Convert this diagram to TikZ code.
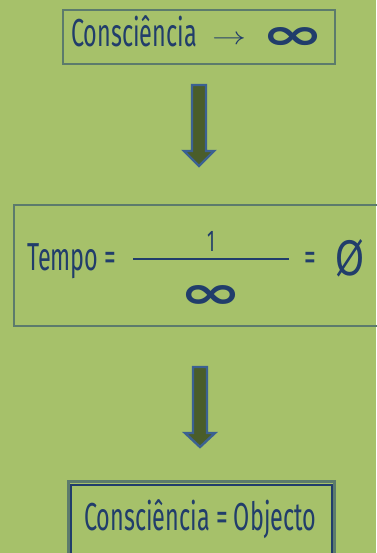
\documentclass[tikz,border=0pt]{standalone}
\usepackage{fontspec}
\usepackage{graphicx}
\usetikzlibrary{calc}
\setmainfont{Fira Sans}[FakeStretch=0.6]
\newfontfamily\symfont{DejaVu Sans}
\definecolor{bg}{HTML}{A6C16A}
\definecolor{navy}{HTML}{213D6B}
\definecolor{boxgrey}{HTML}{5C7B6C}
\definecolor{arrowfill}{HTML}{4A5D2A}
\definecolor{arrowedge}{HTML}{3B6192}
\tikzset{
  txt/.style={inner sep=0pt, anchor=base west, text=navy, font=\fontsize{39}{39}\selectfont},
  boxline/.style={draw=boxgrey, line width=1.6pt},
  blockarrow/.style={fill=arrowfill, draw=arrowedge, line width=2.4pt, line join=miter},
}
\newcommand{\infsym}[2]{\resizebox{#1}{#2}{\symfont\bfseries ∞}}
\begin{document}
\begin{tikzpicture}[x=1pt,y=-1pt]
\fill[bg] (0,0) rectangle (376,553);
\useasboundingbox (0,0) rectangle (376,553);

% top box
\node[boxline, minimum width=272pt, minimum height=54pt, inner sep=0pt] (box1) at (199,37) {};
\node[txt] (t1) at (71,47) {Consciência};
\node[inner sep=0pt, text=navy] (ar1) at (229,40) {\resizebox{34pt}{9pt}{$\rightarrow$}};
\node[inner sep=0pt, text=navy] (inf1) at (293.5,39) {\infsym{63pt}{22pt}};

% arrow 1
\coordinate (a1) at (199,85);
\draw[blockarrow] ($(a1)+(-7,0)$) -- ($(a1)+(7,0)$) -- ($(a1)+(7,66)$) -- ($(a1)+(15,66)$) -- ($(a1)+(0,81)$) -- ($(a1)+(-15,66)$) -- ($(a1)+(-7,66)$) -- cycle;

% middle box
\draw[boxline, line width=2pt] (380,204.5) -- (13.5,204.5) -- (13.5,325.5) -- (380,325.5);
\coordinate (box2) at (195,265);
\node[txt] (t2) at (27,270) {Tempo =};
\node[inner sep=0pt, anchor=base, text=navy, font=\fontsize{30}{30}\selectfont] (one) at (211,251) {1};
\draw[navy, line width=2pt] (133,259) -- (289,259);
\node[inner sep=0pt, text=navy] (inf2) at (211.5,297) {\infsym{63pt}{23pt}};
\node[txt] (eq2) at (304,270) {=};
\node[inner sep=0pt, text=navy] (empty) at (349.5,258) {\resizebox{29pt}{36pt}{\symfont Ø}};

% arrow 2
\coordinate (a2) at (200,367);
\draw[blockarrow] ($(a2)+(-7,0)$) -- ($(a2)+(7,0)$) -- ($(a2)+(7,66)$) -- ($(a2)+(15,66)$) -- ($(a2)+(0,80)$) -- ($(a2)+(-15,66)$) -- ($(a2)+(-7,66)$) -- cycle;

% bottom box
\draw[boxgrey, line width=3pt] (68.6,600) -- (68.6,481.8) -- (334.5,481.8) -- (334.5,600);
\draw[navy, line width=2pt] (71,600) -- (71,484.5) -- (331.7,484.5) -- (331.7,600);
\node[txt] (t3) at (84,530) {Consciência = Objecto};
\end{tikzpicture}
\end{document}
